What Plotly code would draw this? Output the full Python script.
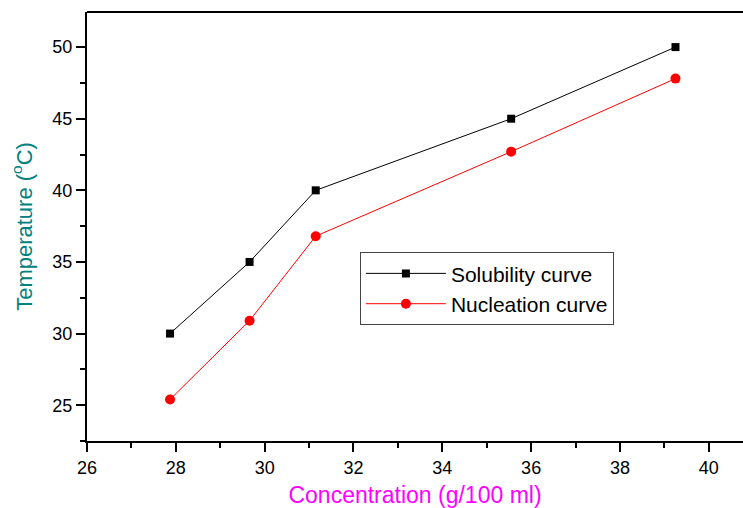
import plotly.graph_objects as go

concentration = [27.87, 29.66, 31.15, 35.55, 39.25]
solubility_temp = [30.0, 35.0, 40.0, 45.0, 50.0]
nucleation_temp = [25.4, 30.9, 36.8, 42.7, 47.8]

x_ticks = [26, 28, 30, 32, 34, 36, 38, 40]
y_ticks = [25, 30, 35, 40, 45, 50]

fig = go.Figure()
fig.add_trace(go.Scatter(
    x=concentration, y=solubility_temp, mode="lines+markers",
    name="Solubility curve",
    line=dict(color="black", width=1),
    marker=dict(symbol="square", size=8, color="black"),
))
fig.add_trace(go.Scatter(
    x=concentration, y=nucleation_temp, mode="lines+markers",
    name="Nucleation curve",
    line=dict(color="red", width=1),
    marker=dict(symbol="circle", size=10, color="red"),
))

font_family = "Liberation Sans, Arial, sans-serif"
fig.update_layout(
    width=743, height=508,
    margin=dict(l=87, r=0, t=12, b=67),
    plot_bgcolor="white", paper_bgcolor="white",
    font=dict(family=font_family, color="black", size=18),
    showlegend=True,
    legend=dict(
        x=0.416, y=0.44, xanchor="left", yanchor="top",
        bordercolor="#444444", borderwidth=1, bgcolor="white",
        font=dict(size=21, family=font_family, color="black"),
        tracegroupgap=0, itemwidth=80,
    ),
    xaxis=dict(
        range=[26, 40.77], tickvals=x_ticks,
        ticks="outside", ticklen=9, tickwidth=2, tickcolor="black",
        showline=True, linecolor="black", linewidth=2, mirror=False,
        showgrid=False, zeroline=False,
        minor=dict(dtick=1, tick0=26, ticks="outside", ticklen=5, tickwidth=2, tickcolor="black"),
        tickfont=dict(size=18),
        title=dict(text="Concentration (g/100 ml)", font=dict(size=23, color="#FF00FF"), standoff=12),
    ),
    yaxis=dict(
        range=[22.5, 52.45], tickvals=y_ticks,
        ticks="outside", ticklen=9, tickwidth=2, tickcolor="black",
        showline=True, linecolor="black", linewidth=2,
        showgrid=False, zeroline=False,
        minor=dict(dtick=2.5, tick0=25, ticks="outside", ticklen=5, tickwidth=2, tickcolor="black"),
        tickfont=dict(size=18),
        title=dict(text="Temperature (<sup>o</sup>C)", font=dict(size=22, color="#008080"), standoff=14),
    ),
)
# top frame line
fig.add_shape(type="line", xref="paper", yref="paper", x0=0, x1=1, y0=1, y1=1,
              line=dict(color="black", width=2))

fig.write_html("out.html")
